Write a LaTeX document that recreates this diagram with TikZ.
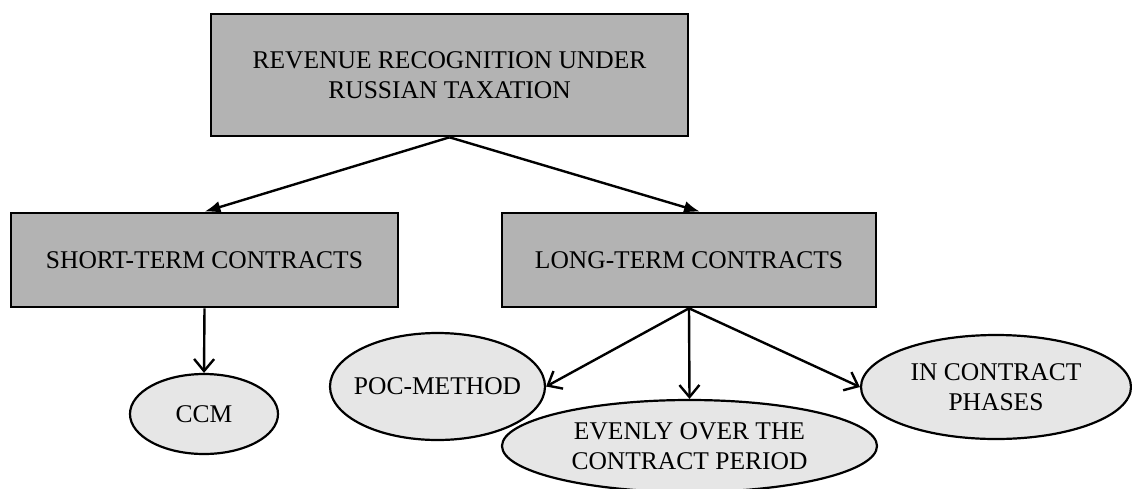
\documentclass[tikz,border=0pt]{standalone}
\usepackage{fontspec}
\setmainfont{Liberation Serif}
\usetikzlibrary{arrows.meta,shapes.geometric}
\definecolor{boxgray}{RGB}{179,179,179}
\definecolor{ovalgray}{RGB}{230,230,230}
\begin{document}
\begin{tikzpicture}[x=1pt,y=-1pt,
  every node/.style={font=\fontsize{25.5}{30}\selectfont, align=center, inner sep=0pt},
  box/.style={rectangle, draw=black, line width=2.6pt, fill=boxgray},
  oval/.style={ellipse, draw=black, line width=2.2pt, fill=ovalgray, inner xsep=-40pt, inner ysep=-8pt},
  solidarrow/.style={-{Latex[length=16pt,width=12pt]}, line width=2.4pt},
  openarrow/.style={-{Straight Barb[length=12pt,width=20pt]}, line width=2.4pt}]
\useasboundingbox (0,0) rectangle (1132,488);

% rectangles
\node[box, minimum width=477, minimum height=122] (top) at (449.5,75)
  {REVENUE RECOGNITION UNDER\\RUSSIAN TAXATION};
\node[box, minimum width=387, minimum height=94] (short) at (204.5,260)
  {SHORT-TERM CONTRACTS};
\node[box, minimum width=374, minimum height=94] (long) at (689,260)
  {LONG-TERM CONTRACTS};

% ellipses
\node[oval, minimum width=148, minimum height=80] (ccm) at (204,414) {CCM};
\node[oval, minimum width=215, minimum height=107] (poc) at (437.5,386.5) {POC-METHOD};
\node[oval, minimum width=375, minimum height=92] (even) at (689.5,446)
  {EVENLY OVER THE\\CONTRACT PERIOD};
\node[oval, minimum width=270, minimum height=104] (phase) at (996,387)
  {IN CONTRACT\\PHASES};

% connectors
\draw[solidarrow] (top.south) -- (short.north);
\draw[solidarrow] (top.south) -- ([xshift=11pt]long.north);
\draw[openarrow] (short.south) -- (ccm.north);
\draw[openarrow] (long.south) -- (poc.east);
\draw[openarrow] (long.south) -- (even.north);
\draw[openarrow] (long.south) -- (phase.west);
\end{tikzpicture}
\end{document}
